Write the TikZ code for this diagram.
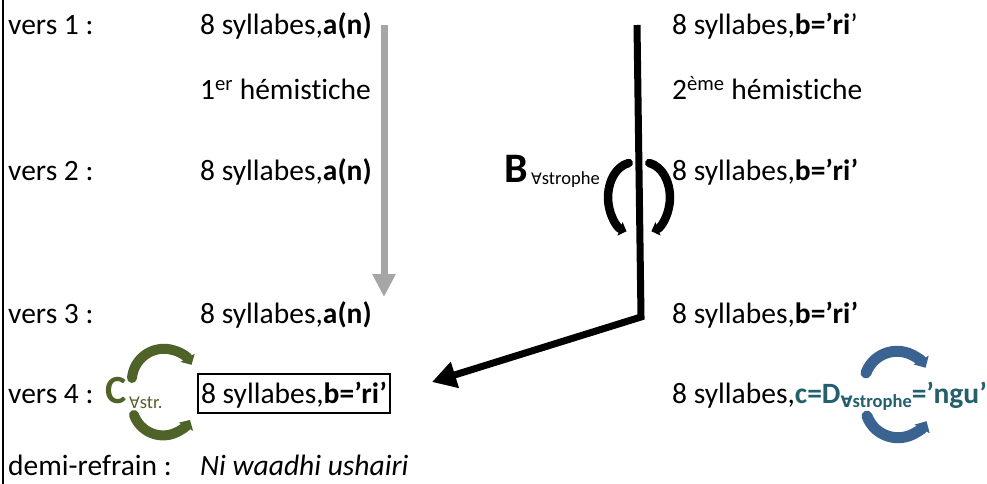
\documentclass[tikz,border=0pt]{standalone}
\usepackage{fontspec}
\setmainfont{Carlito}[Ligatures=NoCommon]
\newfontfamily\djv{DejaVu Sans}
\usetikzlibrary{arrows.meta}
\definecolor{olivec}{HTML}{4F6228}
\definecolor{steelc}{HTML}{3A6391}
\definecolor{tealc}{HTML}{245F6E}
\definecolor{grayc}{HTML}{A6A6A6}
\newcommand{\forallsym}{{\djv\scalebox{0.85}{\char"2200}}}
\begin{document}
\begin{tikzpicture}[x=1pt,y=-1pt,
  txt/.style={inner sep=0pt, anchor=base west, font=\fontsize{29.5}{31}\selectfont},
  subtxt/.style={inner sep=0pt, anchor=base west, font=\fontsize{18.5}{20}\selectfont},
  grayarrow/.style={draw=grayc, line width=7pt, -{Triangle[width=22pt,length=23pt]}},
  mainline/.style={draw=black, line width=7pt, line join=miter, -{Triangle[width=26pt,length=24pt]}},
  blackarc/.style={draw=black, line width=8.5pt, line cap=round, -{Triangle[width=14pt,length=7pt]}},
  greenarc/.style={draw=olivec, line width=10pt, line cap=round, -{Triangle[width=16pt,length=8pt]}},
  bluearc/.style={draw=steelc, line width=11pt, line cap=round, -{Triangle[width=17pt,length=9pt]}},
]
\useasboundingbox (0,0) rectangle (987,484);
\draw[line width=2.5pt] (3,0) -- (3,484);

% left labels
\node[txt] (v1) at (8,35) {vers 1 :};
\node[txt] (v2) at (8,180) {vers 2 :};
\node[txt] (v3) at (8,323) {vers 3 :};
\node[txt] (v4) at (8,403) {vers 4 :};
\node[txt] (dr) at (8,475) {demi-refrain :};

% first hemistich
\node[txt] (a1) at (200,35) {8 syllabes,\textbf{a(n)}};
\node[txt] (h1) at (200,100) {1\textsuperscript{er} hémistiche};
\node[txt] (a2) at (200,180) {8 syllabes,\textbf{a(n)}};
\node[txt] (a3) at (200,323) {8 syllabes,\textbf{a(n)}};
\node[txt, draw, line width=2pt, inner xsep=3pt, inner ysep=4pt, text height=25pt, text depth=6pt] (a4) at (197,403) {8 syllabes,\textbf{b=’ri’}};
\node[txt] (rf) at (200,475) {\itshape Ni waadhi ushairi};

% second hemistich
\node[txt] (b1) at (672,35) {8 syllabes,\textbf{b=’ri}’};
\node[txt] (h2) at (672,100) {2\textsuperscript{ème} hémistiche};
\node[txt] (b2) at (672,180) {8 syllabes,\textbf{b=’ri’}};
\node[txt] (b3) at (672,323) {8 syllabes,\textbf{b=’ri’}};
\node[txt] (b4) at (672,403) {8 syllabes,\textcolor{tealc}{\bfseries c=D\raisebox{-4pt}{\fontsize{18.5}{20}\selectfont\forallsym strophe}=’ngu’}};

% B label
\node[inner sep=0pt, anchor=base west, font=\fontsize{42}{44}\selectfont\bfseries] (B) at (504,182) {B};
\node[subtxt] (Bs) at (531,184) {\forallsym strophe};

% C label
\node[inner sep=0pt, anchor=base west, font=\fontsize{40}{42}\selectfont\bfseries, text=olivec] (C) at (105,403) {C};
\node[subtxt, text=olivec] (Cs) at (129,408) {\forallsym str.};

% gray arrow
\coordinate (gt) at (384,25);
\coordinate (gb) at (384,297);
\draw[grayarrow] (gt) -- (gb);

% black line
\coordinate (bt) at (637,25);
\coordinate (bc) at (641,317);
\coordinate (be) at (432,382);
\draw[mainline] (bt) -- (bc) -- (be);

% black arcs
\draw[blackarc] (628.7,163) arc[x radius=25pt, y radius=35pt, start angle=100, end angle=255];
\draw[blackarc] (649.3,163) arc[x radius=25pt, y radius=35pt, start angle=80, end angle=-75];

% green arcs
\draw[greenarc] (132,378) arc[radius=32pt, start angle=175, end angle=30];
\draw[greenarc] (134,415) arc[radius=31pt, start angle=200, end angle=330];

% blue arcs
\draw[bluearc] (866,373) arc[radius=33pt, start angle=160, end angle=30];
\draw[bluearc] (867,416) arc[radius=33pt, start angle=200, end angle=330];
\end{tikzpicture}
\end{document}
